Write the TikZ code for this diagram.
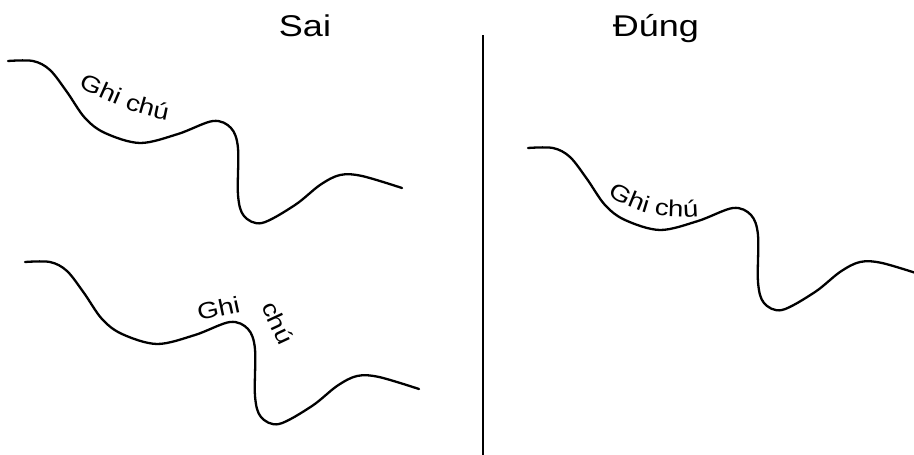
\documentclass[tikz,border=0pt]{standalone}
\usepackage{fontspec}
\setmainfont[FakeStretch=1.2]{Liberation Sans}
\usetikzlibrary{decorations.text}
\newcommand{\notesize}{\fontsize{23}{27}\selectfont}

\begin{document}
\begin{tikzpicture}[x=1pt, y=-1pt,
        title/.style={font=\fontsize{30}{36}\selectfont, anchor=base, inner sep=0pt},
        note/.style={font=\notesize, anchor=base west, inner sep=0pt},
        notepath/.style={decorate, decoration={text along path, text={|\notesize|#1}}},
        curve/.style={line width=2.3pt, line cap=round, line join=round},
        divider/.style={line width=2.6pt},
        pics/wave/.style={code={
            \draw[curve] plot[smooth, tension=0.55] coordinates {(8,61) (33,61) (50,70)
                (67,92) (85,118) (105,133) (140,143) (178,134) (213,121) (231,128)
                (238,148) (238,195) (244,216) (262,223) (295,205) (320,185)
                (340,175) (362,176) (402,188)};
        }}]
        \useasboundingbox (0,0) rectangle (914,455);

        \node[title] (sai) at (305,36) {Sai};
        \node[title] (dung) at (656,36) {Đúng};

        \coordinate (divtop) at (483,35);
        \coordinate (divbot) at (483,455);
        \draw[divider] (divtop) -- (divbot);

        % wrong: label off the line
        \pic at (0,0) {wave};
        \coordinate (n1a) at (78,88);
        \coordinate (n1b) at (190,123);
        \path[notepath={Ghi chú}] (n1a) .. controls (115,104) and (140,119) .. (n1b);

        % wrong: label bent round the bump
        \pic at (17,201) {wave};
        \node[note, rotate=12] (ghi) at (199,321) {Ghi};
        \node[note, rotate=-65] (chu) at (261,306) {chú};

        % right: label along the line
        \pic at (520,87) {wave};
        \coordinate (n3a) at (608,195);
        \coordinate (n3b) at (712,215);
        \path[notepath={Ghi chú}] (n3a) .. controls (635,212) and (660,222) .. (n3b);
    \end{tikzpicture}
\end{document}
